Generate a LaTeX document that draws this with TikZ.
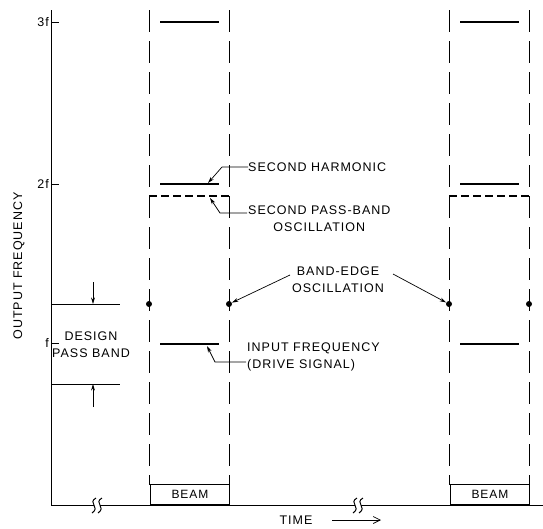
\documentclass[tikz,border=0pt]{standalone}
\usepackage{fontspec}
\setmainfont{Liberation Sans}[LetterSpace=8]
\usetikzlibrary{arrows.meta}
\begin{document}
\begin{tikzpicture}[x=1pt,y=-1pt,
  lab/.style={font=\fontsize{12.5}{17}\selectfont, inner sep=0pt},
  axisline/.style={line width=1pt},
  beamline/.style={line width=1pt, dash pattern=on 22pt off 9pt},
  level/.style={line width=1.4pt},
  dashlevel/.style={line width=1.1pt, dash pattern=on 8pt off 4pt},
  leader/.style={line width=0.7pt},
  tip/.style={leader, -{Stealth[length=6.5pt,width=3.8pt]}},
  dotmark/.style={circle, fill=black, inner sep=0pt, minimum size=6pt},
  box/.style={draw, line width=0.9pt, minimum width=79pt, minimum height=20pt, inner sep=0pt, font=\fontsize{12}{14}\selectfont, anchor=south west}
]
\useasboundingbox (0,0) rectangle (543,528);
% axes
\coordinate (ytop) at (51,10);
\coordinate (orig) at (51,505);
\coordinate (br1a) at (94,505);
\coordinate (br1b) at (100,505);
\coordinate (br2a) at (355,505);
\coordinate (br2b) at (361,505);
\coordinate (xend) at (543,505);
\draw[axisline] (ytop) -- (orig) -- (br1a);
\draw[axisline] (br1b) -- (br2a);
\draw[axisline] (br2b) -- (xend);
\foreach \c in {br1a,br1b,br2a,br2b}
  \draw[line width=1pt] ([shift={(2,-7)}]\c) .. controls ([shift={(-7,-2)}]\c) and ([shift={(7,2)}]\c) .. ([shift={(-2,8)}]\c);
% ticks
\foreach \y/\t in {22/3f,184/2f,343/f}{
  \draw[line width=0.8pt] (51,\y) -- (59,\y);
  \node[lab, anchor=east] (t\t) at (49,\y) {\t};
}
\node[lab, rotate=90] (ylab) at (19,266) {OUTPUT FREQUENCY};
% beams
\node[box] (beam1) at (150,505) {BEAM};
\node[box] (beam2) at (450,505) {BEAM};
\foreach \x in {149,229,449,529}
  \draw[beamline] (\x,10) -- (\x,485);
% levels
\foreach \o in {0,300}{
  \draw[level] (160+\o,22) -- (219+\o,22);
  \draw[level] (160+\o,184) -- (219+\o,184);
  \draw[dashlevel] (149+\o,196) -- (229+\o,196);
  \draw[level] (160+\o,344) -- (219+\o,344);
}
\node[dotmark] (d1) at (149,304) {};
\node[dotmark] (d2) at (229,304) {};
\node[dotmark] (d3) at (449,304) {};
\node[dotmark] (d4) at (529,304) {};
% design pass band
\draw[axisline] (51,304) -- (120,304);
\draw[axisline] (51,384) -- (120,384);
\coordinate (pbt) at (93,304);
\coordinate (pbb) at (93,384);
\draw[tip] (93,282) -- (pbt);
\draw[tip] (93,407) -- (pbb);
\node[lab, align=center] (pb) at (91,345) {DESIGN\\PASS BAND};
% labels
\node[lab, anchor=west] (sh) at (248,167) {SECOND HARMONIC};
\coordinate (shk) at (222,167);
\draw[tip] (sh.west) -- (shk) -- (208,183);
\node[lab, align=center, anchor=north west] (spb) at (248,206) {SECOND PASS-BAND\\OSCILLATION};
\coordinate (spk) at (220,213);
\draw[tip] (247,213) -- (spk) -- (210,198);
\node[lab, align=center] (be) at (338,280) {BAND-EDGE\\OSCILLATION};
\draw[tip] (290,275) -- (d2);
\draw[tip] (393,274) -- (d3);
\node[lab, align=left, anchor=north west] (inp) at (247,343) {INPUT FREQUENCY\\(DRIVE SIGNAL)};
\coordinate (ink) at (215,362);
\draw[tip] (246,362) -- (ink) -- (207,346);
% time
\node[lab] (time) at (296,520) {TIME};
\coordinate (tarr) at (381,520);
\draw[leader, -{Straight Barb[length=7pt,width=7pt]}] (332,520) -- (tarr);
\end{tikzpicture}
\end{document}
